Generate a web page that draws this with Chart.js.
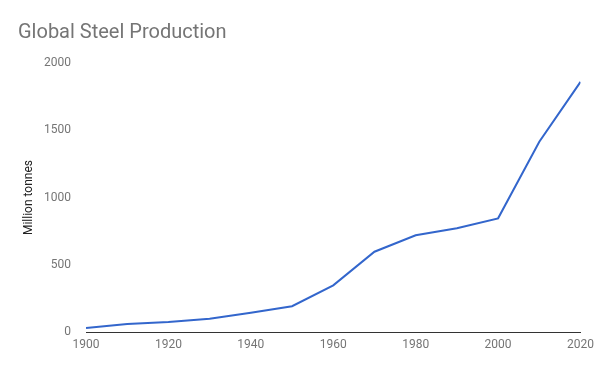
<!DOCTYPE html>
<html>
<head>
<meta charset="utf-8">
<script src="https://cdn.jsdelivr.net/npm/chart.js@4"></script>
<style>
  html, body { margin: 0; padding: 0; background: #fff; }
  #wrap { width: 600px; height: 371px; position: relative; }
</style>
</head>
<body>
<div id="wrap"><canvas id="steelChart"></canvas></div>
<script>
(function () {
  // Global steel production, million tonnes
  var YEARS = [1900, 1910, 1920, 1930, 1940, 1950, 1960, 1970, 1980, 1990, 2000, 2010, 2020];
  var PRODUCTION = [30, 60, 74, 98, 143, 192, 347, 597, 719, 771, 845, 1415, 1860];
  var Y_TICKS = [0, 500, 1000, 1500, 2000];
  var X_TICKS = [1900, 1920, 1940, 1960, 1980, 2000, 2020];

  var FONT = 'Roboto';
  var GREY = '#757575';

  var points = YEARS.map(function (y, i) { return { x: y, y: PRODUCTION[i] }; });

  var ctx = document.getElementById('steelChart').getContext('2d');

  new Chart(ctx, {
    type: 'line',
    data: {
      datasets: [{
        label: 'Global Steel Production',
        data: points,
        borderColor: '#3366cc',
        borderWidth: 2,
        pointRadius: 0,
        tension: 0,
        fill: false,
      }],
    },
    options: {
      responsive: true,
      maintainAspectRatio: false,
      animation: false,
      layout: { padding: { left: 18, right: 19, top: 0, bottom: 0 } },
      plugins: {
        legend: { display: false },
        tooltip: { enabled: false },
        title: {
          display: true,
          text: 'Global Steel Production',
          align: 'start',
          color: GREY,
          font: { family: FONT, size: 20, weight: 'normal' },
          padding: { top: 21, bottom: 18 },
        },
      },
      scales: {
        x: {
          type: 'linear',
          min: 1900,
          max: 2020,
          afterBuildTicks: function (axis) {
            axis.ticks = X_TICKS.map(function (v) { return { value: v }; });
          },
          afterFit: function (axis) { axis.height = 39; },
          grid: { display: false, drawTicks: false },
          border: { display: true, color: '#333', width: 1 },
          ticks: {
            color: GREY,
            font: { family: FONT, size: 12 },
            maxRotation: 0,
            padding: 6,
            callback: function (v) { return String(v); },
          },
        },
        y: {
          min: 0,
          max: 2000,
          afterBuildTicks: function (axis) {
            axis.ticks = Y_TICKS.map(function (v) { return { value: v }; });
          },
          afterFit: function (axis) { axis.width = 68; },
          grid: { display: false },
          border: { display: false },
          title: {
            display: true,
            text: 'Million tonnes',
            color: '#222',
            font: { family: FONT, size: 12 },
            padding: { top: 4, bottom: 0 },
          },
          ticks: {
            color: GREY,
            font: { family: FONT, size: 12 },
            padding: 7,
            callback: function (v) { return String(v); },
          },
        },
      },
    },
  });
})();
</script>
</body>
</html>
